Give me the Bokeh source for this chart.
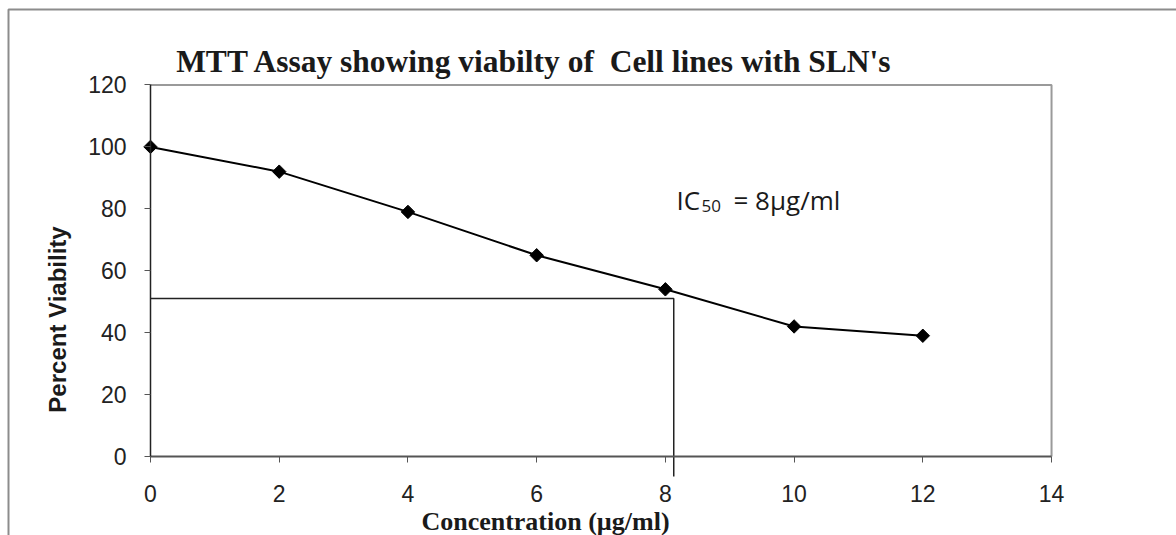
import numpy as np
from bokeh.plotting import figure
from bokeh.models import Range1d, FixedTicker, Label
from bokeh.embed import file_html
from bokeh.resources import INLINE

# ---- data ----
concentration = [0, 2, 4, 6, 8, 10, 12]
viability = [100, 92, 79, 65, 54, 42, 39]
ic50_x = [0, 8.13, 8.13]
ic50_y = [51, 51, -6.5]
x_ticks = [0, 2, 4, 6, 8, 10, 12, 14]
y_ticks = [0, 20, 40, 60, 80, 100, 120]
title_text = "MTT Assay showing viabilty of \u00a0Cell lines with SLN's"
x_label = "Concentration (\u00b5g/ml)"
y_label = "Percent Viability"

# ---- picture geometry (pixels) ----
W, H = 1176, 535
FIG_X, FIG_Y = 0, 0       # picture position of the figure
X0_PX, UX = 150.0, 64.36  # picture x of concentration 0, pixels per unit
Y0_PX, UY = 456.0, 3.096  # picture y of viability 0, pixels per unit


def dx(px):
    return (px - X0_PX) / UX


def dy(py):
    return (Y0_PX - py) / UY


p = figure(width=W, height=H,
           x_range=Range1d(dx(FIG_X), dx(FIG_X + W)),
           y_range=Range1d(dy(FIG_Y + H), dy(FIG_Y)),
           output_backend="svg", toolbar_location=None, title=None,
           min_border=0, min_border_left=0, min_border_right=0,
           min_border_top=0, min_border_bottom=0,
           background_fill_color="white", border_fill_color="white",
           outline_line_color=None)

p.xgrid.visible = False
p.ygrid.visible = False

# axes (placed inside the frame at the data origin)
for ax in (p.xaxis, p.yaxis):
    ax.fixed_location = 0
    ax.minor_tick_line_color = None
    ax.major_tick_in = 0
    ax.major_tick_out = 6
    ax.major_label_text_font = "Liberation Sans"
    ax.major_label_text_font_size = "23px"
    ax.major_label_text_color = "#222222"

p.xaxis.bounds = (x_ticks[0], x_ticks[-1])
p.yaxis.bounds = (y_ticks[0], y_ticks[-1])
p.xaxis.ticker = FixedTicker(ticks=x_ticks)
p.yaxis.ticker = FixedTicker(ticks=y_ticks)
p.xaxis.axis_line_color = "#555555"
p.xaxis.axis_line_width = 2
p.xaxis.major_tick_line_color = "#555555"
p.xaxis.major_label_standoff = 22
p.yaxis.axis_line_color = "#222222"
p.yaxis.axis_line_width = 1.5
p.yaxis.major_tick_line_color = "#555555"
p.yaxis.major_label_standoff = 18

# outer chart border (top and left, grey)
p.line([dx(8), dx(8), dx(W)], [dy(H), dy(9), dy(9)],
       line_color="#8c8c8c", line_width=2)

# plot-area top and right border (grey)
p.line([x_ticks[0], x_ticks[-1], x_ticks[-1]], [y_ticks[-1], y_ticks[-1], y_ticks[0]],
       line_color="#9a9a9a", line_width=2)

# IC50 guide lines
p.line(ic50_x, ic50_y, line_color="#222222", line_width=1.5)

# data
p.line(concentration, viability, line_color="black", line_width=2)
p.scatter(concentration, viability, marker="square", angle=np.pi / 4, size=9.5,
          fill_color="black", line_color="black")

# texts
p.add_layout(Label(x=dx(534), y=dy(61), text=title_text, text_font="Liberation Serif",
                   text_font_style="bold", text_font_size="31.5px", text_align="center",
                   text_baseline="alphabetic", text_color="#1a1a1a"))
p.add_layout(Label(x=dx(545), y=dy(521), text=x_label, text_font="Liberation Serif",
                   text_font_style="bold", text_font_size="26px", text_align="center",
                   text_baseline="alphabetic", text_color="#1a1a1a"))
p.add_layout(Label(x=dx(57), y=dy(319), text=y_label, text_font="Liberation Sans",
                   text_font_style="bold", text_font_size="24px", text_align="center",
                   text_baseline="middle", angle=np.pi / 2, text_color="#1a1a1a"))
p.add_layout(Label(x=dx(676), y=dy(199), text="IC", text_font="Open Sans",
                   text_font_size="26px", text_align="left",
                   text_baseline="alphabetic", text_color="#1a1a1a"))
p.add_layout(Label(x=dx(701), y=dy(205), text="50", text_font="Open Sans",
                   text_font_size="17px", text_align="left",
                   text_baseline="alphabetic", text_color="#1a1a1a"))
p.add_layout(Label(x=dx(733), y=dy(199), text="= 8\u00b5g/ml", text_font="Open Sans",
                   text_font_size="26px", text_align="left",
                   text_baseline="alphabetic", text_color="#1a1a1a"))

open("out.html", "w").write(file_html(p, INLINE))
